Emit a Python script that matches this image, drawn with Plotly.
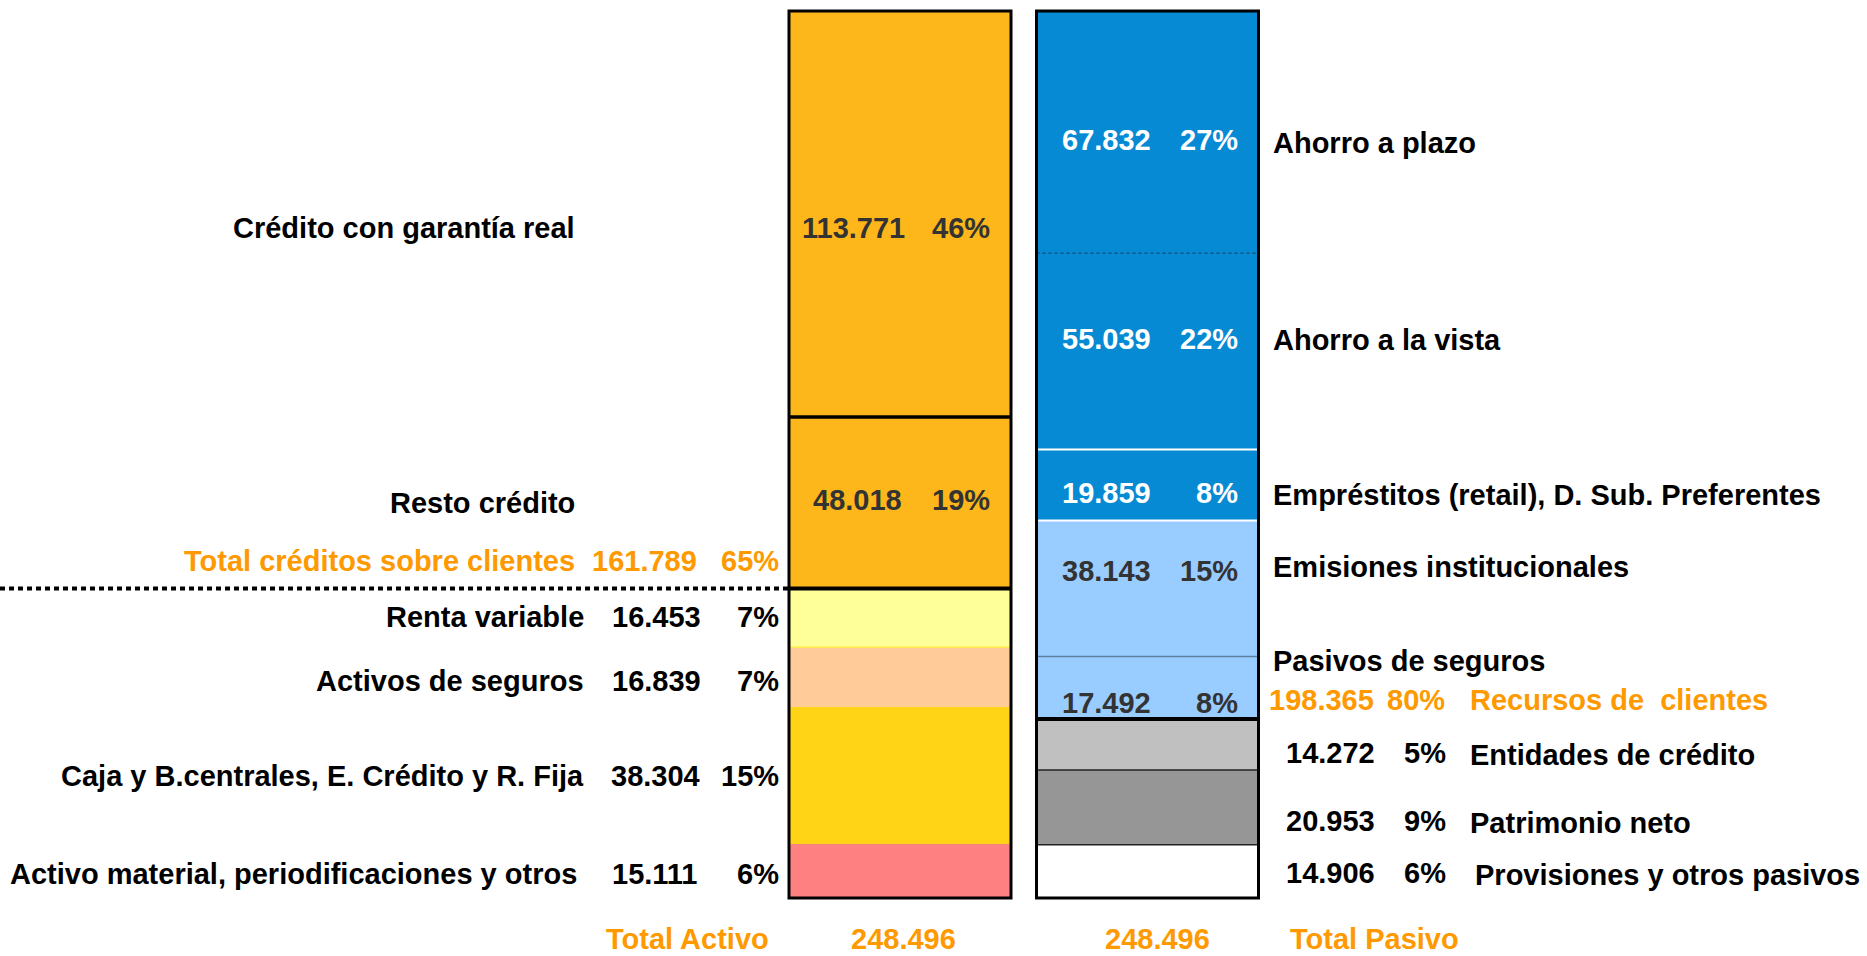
import plotly.graph_objects as go

# ---------------- data ----------------
# Activo (bottom -> top)
activo_labels = ["Activo material, periodificaciones y otros",
                 "Caja y B.centrales, E. Crédito y R. Fija",
                 "Activos de seguros",
                 "Renta variable",
                 "Resto crédito",
                 "Crédito con garantía real"]
activo_values = [15.111, 38.304, 16.839, 16.453, 48.018, 113.771]
activo_pct = ["6%", "15%", "7%", "7%", "19%", "46%"]

# Pasivo (bottom -> top)
pasivo_labels = ["Provisiones y otros pasivos",
                 "Patrimonio neto",
                 "Entidades de crédito",
                 "Pasivos de seguros",
                 "Emisiones institucionales",
                 "Empréstitos (retail), D. Sub. Preferentes",
                 "Ahorro a la vista",
                 "Ahorro a plazo"]
pasivo_values = [14.906, 20.953, 14.272, 17.492, 38.143, 19.859, 55.039, 67.832]
pasivo_pct = ["6%", "9%", "5%", "8%", "15%", "8%", "22%", "27%"]

credit_label = "Total créditos sobre clientes"
credit_pct = "65%"
recursos_label = "Recursos de  clientes"
recursos_pct = "80%"
total_activo_label = "Total Activo"
total_pasivo_label = "Total Pasivo"
categories = ["Activo", "Pasivo"]

# ---------------- styles ----------------
W, H = 1867, 956
FONT = "Liberation Sans, Arial, sans-serif"
FS = 29
ORANGE = "#FF9900"
DARK = "#333333"
activo_colors = ["#FF8080", "#FFD316", "#FFCC99", "#FFFF99", "#FDB71A", "#FDB71A"]
pasivo_colors = ["#FFFFFF", "#969696", "#C0C0C0", "#99CCFF", "#99CCFF", "#068AD3", "#068AD3", "#068AD3"]

BW = 222 / 247.5
XR = [-900 / 247.5, -900 / 247.5 + W / 247.5]
YR = [-16.25, 251.58]


def fmt(v):
    return f"{v:.3f}"


def cum(vals):
    out, s = [], 0.0
    for v in vals:
        s += v
        out.append(s)
    return out


fig = go.Figure()
for lab, v, c in zip(activo_labels, activo_values, activo_colors):
    fig.add_bar(x=[categories[0]], y=[v], width=BW, name=lab,
                marker=dict(color=c, line=dict(width=0)),
                hoverinfo="skip", showlegend=False)
for lab, v, c in zip(pasivo_labels, pasivo_values, pasivo_colors):
    fig.add_bar(x=[categories[1]], y=[v], width=BW, name=lab,
                marker=dict(color=c, line=dict(width=0)),
                hoverinfo="skip", showlegend=False)

a_cum = cum(activo_values)
p_cum = cum(pasivo_values)
total_a = a_cum[-1]
total_p = p_cum[-1]
credit_total = activo_values[4] + activo_values[5]
recursos_total = sum(pasivo_values[3:])

shapes = []


def hline(ci, y, color, width, dash="solid"):
    shapes.append(dict(type="line", xref="x", yref="y",
                       x0=ci - BW / 2, x1=ci + BW / 2, y0=y, y1=y,
                       line=dict(color=color, width=width, dash=dash), layer="above"))


# left separators (top of segment i)
hline(0, a_cum[2], "#FFE94D", 1.5)
hline(0, a_cum[3], "black", 4)
hline(0, a_cum[4], "black", 3.5)
# right separators
hline(1, p_cum[0], "#222222", 1.5)
hline(1, p_cum[1], "#222222", 1.5)
hline(1, p_cum[2], "black", 4)
hline(1, p_cum[3], "#5F7F9F", 1.5)
hline(1, p_cum[4], "white", 2)
hline(1, p_cum[5], "white", 2)
hline(1, p_cum[6], "#1A3A5A", 1, "dot")

for ci, tot in ((0, total_a), (1, total_p)):
    shapes.append(dict(type="rect", xref="x", yref="y",
                       x0=ci - BW / 2, x1=ci + BW / 2, y0=0, y1=tot,
                       line=dict(color="black", width=3), fillcolor="rgba(0,0,0,0)",
                       layer="above"))

# dotted line marking total credit
shapes.append(dict(type="line", xref="x", yref="y",
                   x0=XR[0], x1=-BW / 2, y0=a_cum[3], y1=a_cum[3],
                   line=dict(color="black", width=4, dash="5px,4px"), layer="above"))

annotations = []


def ann(text, x, y, anchor, color="black"):
    annotations.append(dict(text=text, x=x / W, y=1 - y / H, xref="paper", yref="paper",
                            xanchor=anchor, yanchor="middle", showarrow=False,
                            font=dict(family=FONT, size=FS, color=color, weight="bold")))


# --- in-bar labels, left bar
ann(fmt(activo_values[5]), 907, 228, "right", DARK)
ann(activo_pct[5], 992, 228, "right", DARK)
ann(fmt(activo_values[4]), 904, 500, "right", DARK)
ann(activo_pct[4], 992, 500, "right", DARK)

# --- in-bar labels, right bar
pasivo_inbar = [(7, 140, "white"), (6, 339, "white"), (5, 493, "white"),
                (4, 571, DARK), (3, 703, DARK)]
for i, y, col in pasivo_inbar:
    ann(fmt(pasivo_values[i]), 1153, y, "right", col)
    ann(pasivo_pct[i], 1240, y, "right", col)

# --- left outside labels
ann(activo_labels[5], 577, 228, "right")
ann(activo_labels[4], 577, 503, "right")
ann(credit_label, 577, 561, "right", ORANGE)
ann(fmt(credit_total), 699, 561, "right", ORANGE)
ann(credit_pct, 781, 561, "right", ORANGE)

left_rows = [(3, 617, 586, 703), (2, 681, 586, 703), (1, 776, 586, 702), (0, 874, 579, 700)]
for i, y, xl, xn in left_rows:
    ann(activo_labels[i], xl, y, "right")
    ann(fmt(activo_values[i]), xn, y, "right")
    ann(activo_pct[i], 781, y, "right")

# --- right outside labels
ann(pasivo_labels[7], 1271, 143, "left")
ann(pasivo_labels[6], 1271, 340, "left")
ann(pasivo_labels[5], 1271, 495, "left")
ann(pasivo_labels[4], 1271, 567, "left")
ann(pasivo_labels[3], 1271, 661, "left")
ann(fmt(recursos_total), 1376, 700, "right", ORANGE)
ann(recursos_pct, 1447, 700, "right", ORANGE)
ann(recursos_label, 1468, 700, "left", ORANGE)

right_rows = [(2, 753, 1468), (1, 821, 1468), (0, 873, 1473)]
for i, y, xl in right_rows:
    ann(fmt(pasivo_values[i]), 1377, y, "right")
    ann(pasivo_pct[i], 1448, y, "right")
    ann(pasivo_labels[i], xl, y + 2, "left")

# --- totals
TY = 939
ann(total_activo_label, 771, TY, "right", ORANGE)
ann(fmt(total_a), 903, TY, "center", ORANGE)
ann(fmt(total_p), 1157, TY, "center", ORANGE)
ann(total_pasivo_label, 1288, TY, "left", ORANGE)

fig.update_layout(
    barmode="stack",
    width=W, height=H,
    margin=dict(l=0, r=0, t=0, b=0, pad=0),
    paper_bgcolor="white", plot_bgcolor="white",
    font=dict(family=FONT, size=FS),
    xaxis=dict(type="category", categoryorder="array", categoryarray=categories,
               range=XR, visible=False, fixedrange=True),
    yaxis=dict(range=YR, visible=False, fixedrange=True),
    bargap=0,
    shapes=shapes,
    annotations=annotations,
    showlegend=False,
)

fig.write_html("out.html", config={"displayModeBar": False},
               post_script="document.body.style.margin='0';document.body.style.overflow='hidden';")
